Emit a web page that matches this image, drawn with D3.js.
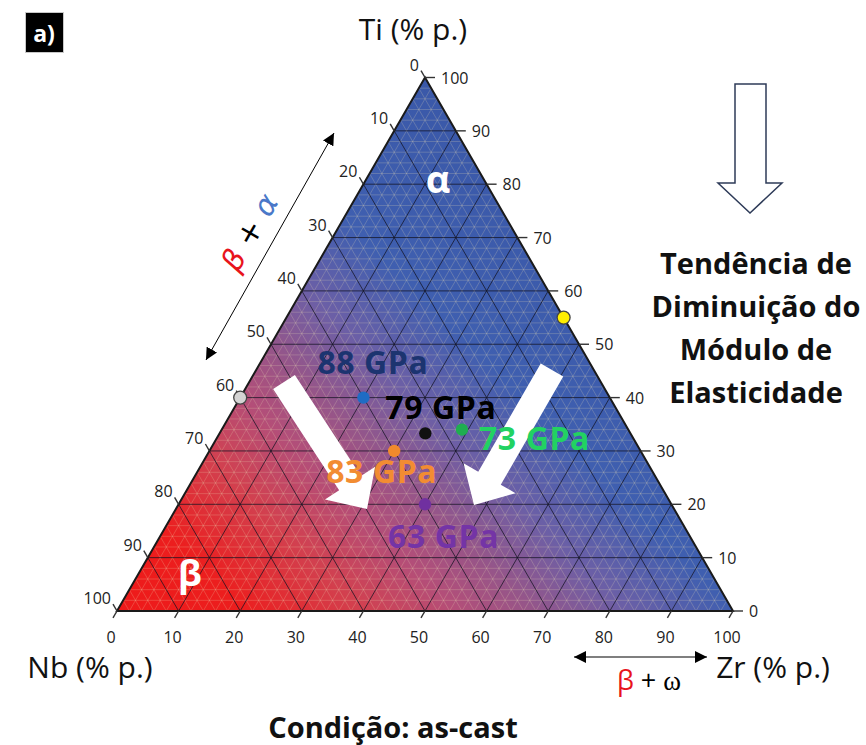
<!DOCTYPE html>
<html>
<head>
<meta charset="utf-8">
<script src="https://cdn.jsdelivr.net/npm/d3@7"></script>
<style>
  html, body { margin: 0; padding: 0; background: #fff; }
  svg { display: block; font-family: "Open Sans", "Noto Sans", sans-serif; }
</style>
</head>
<body>
<svg id="chart" width="866" height="745"></svg>
<script>
// ---- data -------------------------------------------------------------
const tickValues = [0, 10, 20, 30, 40, 50, 60, 70, 80, 90, 100];

// measured alloys (composition in wt.% and elastic modulus)
const moduli   = [88, 79, 73, 83, 63];
const alloyTi  = [40, 33.3, 34, 30, 20];
const alloyNb  = [40, 33.3, 27, 40, 40];
const alloyZr  = [20, 33.4, 39, 30, 40];
const alloyColors = ["#1f6cc4", "#111111", "#1fae50", "#f08a2c", "#7030a0"];
const labelColors = ["#1c3470", "#000000", "#22d262", "#f28c32", "#7434a6"];

// binary reference compositions lying on the edges
const edgeTi = [40, 55];
const edgeNb = [60, 0];
const edgeZr = [0, 45];
const edgeFill = ["#d4d4d4", "#ffee00"];

// background colour ramp (red = beta side, blue = alpha side)
const rampStops  = [0, 0.15, 0.29, 0.40, 0.49, 0.60, 0.73, 1];
const rampColors = ["#ee1a1a", "#ec1e1e", "#d2404f", "#b44e78", "#965589", "#6c5fa6", "#3f5fb0", "#3a58a8"];

// ---- ternary scales ----------------------------------------------------
const svg = d3.select("#chart");
const X = d3.scaleLinear().domain([0, 100]).range([117, 733]);
const Y = d3.scaleLinear().domain([0, 100]).range([611, 77.5]);
// (Nb, Ti, Zr) -> screen
const proj = (nb, ti, zr) => [X(zr + ti / 2), Y(ti)];

const cNb = proj(100, 0, 0), cZr = proj(0, 0, 100), cTi = proj(0, 100, 0);
const line = d3.line();

// diagonal fill: from the Nb corner towards the upper right
const defs = svg.append("defs");
const gLen = 600;
const grad = defs.append("linearGradient")
  .attr("id", "phaseGrad").attr("gradientUnits", "userSpaceOnUse")
  .attr("x1", cNb[0]).attr("y1", cNb[1])
  .attr("x2", cNb[0] + gLen / Math.SQRT2).attr("y2", cNb[1] - gLen / Math.SQRT2);
grad.selectAll("stop").data(rampStops).join("stop")
  .attr("offset", d => d).attr("stop-color", (d, i) => rampColors[i]);

svg.append("path")
  .attr("d", line([cNb, cZr, cTi]) + "Z")
  .attr("fill", "url(#phaseGrad)");

// ---- grid ---------------------------------------------------------------
const minor = d3.range(2, 100, 2).filter(v => v % 10 !== 0);
const major = d3.range(10, 100, 10);
function gridSegs(vals) {
  const segs = [];
  vals.forEach(v => {
    segs.push([proj(100 - v, v, 0), proj(0, v, 100 - v)]);   // Ti = v
    segs.push([proj(100 - v, 0, v), proj(0, 100 - v, v)]);   // Zr = v
    segs.push([proj(v, 0, 100 - v), proj(v, 100 - v, 0)]);   // Nb = v
  });
  return segs;
}
svg.append("g").selectAll("path").data(gridSegs(minor)).join("path")
  .attr("d", d => line(d))
  .attr("stroke", "rgba(235,225,185,0.32)").attr("stroke-width", 0.7).attr("fill", "none");
svg.append("g").selectAll("path").data(gridSegs(major)).join("path")
  .attr("d", d => line(d))
  .attr("stroke", "rgba(20,20,35,0.75)").attr("stroke-width", 1).attr("fill", "none");

// outline
svg.append("path")
  .attr("d", line([cNb, cZr, cTi]) + "Z")
  .attr("fill", "none").attr("stroke", "#1a1a1a").attr("stroke-width", 2)
  .attr("stroke-linejoin", "miter");

// ---- ticks & tick labels ------------------------------------------------
const tickCol = "#333";
const axes = [
  // bottom: Zr
  { pt: v => proj(100 - v, 0, v), dir: [-0.5, 0.866], len: 8,
    lab: p => [p[0] - 6, p[1] + 26], anchor: "middle" },
  // left: Nb
  { pt: v => proj(v, 100 - v, 0), dir: [-0.5, -0.866], len: 8,
    lab: p => [p[0] - 6, p[1] - 13], anchor: "end" },
  // right: Ti
  { pt: v => proj(0, v, 100 - v), dir: [1, 0], len: 10,
    lab: p => [p[0] + 16, p[1]], anchor: "start" }
];
axes.forEach(ax => {
  const g = svg.append("g");
  g.selectAll("line").data(tickValues).join("line")
    .attr("x1", v => ax.pt(v)[0]).attr("y1", v => ax.pt(v)[1])
    .attr("x2", v => ax.pt(v)[0] + ax.dir[0] * ax.len)
    .attr("y2", v => ax.pt(v)[1] + ax.dir[1] * ax.len)
    .attr("stroke", tickCol).attr("stroke-width", 1.4);
  g.selectAll("text").data(tickValues).join("text")
    .attr("x", v => ax.lab(ax.pt(v))[0]).attr("y", v => ax.lab(ax.pt(v))[1])
    .attr("text-anchor", ax.anchor).attr("dominant-baseline", "central")
    .attr("font-size", 16).attr("fill", "#222")
    .text(v => v);
});

// ---- phase field labels --------------------------------------------------
svg.append("text").attr("x", proj(7.3, 81.2, 11.5)[0]).attr("y", proj(7.3, 81.2, 11.5)[1])
  .attr("text-anchor", "middle").attr("dominant-baseline", "central")
  .attr("font-size", 38).attr("font-weight", 700).attr("fill", "#fff").text("α");
svg.append("text").attr("x", proj(84.5, 7.3, 8.2)[0]).attr("y", proj(84.5, 7.3, 8.2)[1])
  .attr("text-anchor", "middle").attr("dominant-baseline", "central")
  .attr("font-size", 36).attr("font-weight", 700).attr("fill", "#fff").text("β");

// ---- trend arrows (white block arrows) -----------------------------------
function blockArrow(from, to, shaftW, headW, headL) {
  const dx = to[0] - from[0], dy = to[1] - from[1];
  const L = Math.hypot(dx, dy), ux = dx / L, uy = dy / L, nx = -uy, ny = ux;
  const bx = to[0] - ux * headL, by = to[1] - uy * headL;
  return line([
    [from[0] + nx * shaftW / 2, from[1] + ny * shaftW / 2],
    [bx + nx * shaftW / 2, by + ny * shaftW / 2],
    [bx + nx * headW / 2, by + ny * headW / 2],
    to,
    [bx - nx * headW / 2, by - ny * headW / 2],
    [bx - nx * shaftW / 2, by - ny * shaftW / 2],
    [from[0] - nx * shaftW / 2, from[1] - ny * shaftW / 2]
  ]) + "Z";
}
svg.append("path").attr("d", blockArrow([284, 382], [367, 509], 26, 60, 31)).attr("fill", "#fff");
svg.append("path").attr("d", blockArrow([552, 370], [474, 505], 26, 60, 31)).attr("fill", "#fff");

// ---- edge points -----------------------------------------------------------
svg.append("g").selectAll("circle").data(edgeTi).join("circle")
  .attr("cx", (d, i) => proj(edgeNb[i], edgeTi[i], edgeZr[i])[0])
  .attr("cy", (d, i) => proj(edgeNb[i], edgeTi[i], edgeZr[i])[1])
  .attr("r", 6.5).attr("fill", (d, i) => edgeFill[i])
  .attr("stroke", "#444").attr("stroke-width", 1.3);

// ---- alloys ---------------------------------------------------------------
const alloyPos = moduli.map((m, i) => proj(alloyNb[i], alloyTi[i], alloyZr[i]));
svg.append("g").selectAll("circle").data(moduli).join("circle")
  .attr("cx", (d, i) => alloyPos[i][0]).attr("cy", (d, i) => alloyPos[i][1])
  .attr("r", 6.2).attr("fill", (d, i) => alloyColors[i]);

// label placement relative to each point (start x, baseline y)
const labelDx = [-46, -40, 17, -68, -37];
const labelDy = [-24, -14, 20, 32, 44];
svg.append("g").selectAll("text").data(moduli).join("text")
  .attr("x", (d, i) => alloyPos[i][0] + labelDx[i])
  .attr("y", (d, i) => alloyPos[i][1] + labelDy[i])
  .attr("font-size", 32).attr("font-weight", 700).attr("letter-spacing", 0.6)
  .attr("fill", (d, i) => labelColors[i])
  .text(d => d + " GPa");

// ---- axis titles ------------------------------------------------------------
svg.append("text").attr("x", 413).attr("y", 40).attr("text-anchor", "middle")
  .attr("font-size", 30).attr("fill", "#111").text("Ti (% p.)");
svg.append("text").attr("x", 90).attr("y", 678).attr("text-anchor", "middle")
  .attr("font-size", 30).attr("fill", "#111").text("Nb (% p.)");
svg.append("text").attr("x", 773).attr("y", 678).attr("text-anchor", "middle")
  .attr("font-size", 30).attr("fill", "#111").text("Zr (% p.)");
svg.append("text").attr("x", 393).attr("y", 738).attr("text-anchor", "middle")
  .attr("font-size", 29).attr("font-weight", 700).attr("fill", "#111").text("Condição: as-cast");

// ---- panel tag ----------------------------------------------------------------
svg.append("rect").attr("x", 25.5).attr("y", 12.5).attr("width", 38).attr("height", 40)
  .attr("fill", "#000").attr("stroke", "#c8c8c8").attr("stroke-width", 1);
svg.append("text").attr("x", 44).attr("y", 33).attr("text-anchor", "middle")
  .attr("dominant-baseline", "central").attr("font-size", 23).attr("font-weight", 700)
  .attr("fill", "#fff").text("a)");

// ---- double arrows for two-phase regions --------------------------------------
defs.append("marker").attr("id", "head").attr("viewBox", "0 0 10 10")
  .attr("refX", 10).attr("refY", 5).attr("markerWidth", 12).attr("markerHeight", 12)
  .attr("markerUnits", "userSpaceOnUse").attr("orient", "auto-start-reverse")
  .append("path").attr("d", "M0,0 L10,5 L0,10 Z").attr("fill", "#000");

svg.append("line").attr("x1", 206).attr("y1", 360).attr("x2", 334).attr("y2", 133)
  .attr("stroke", "#000").attr("stroke-width", 1)
  .attr("marker-start", "url(#head)").attr("marker-end", "url(#head)");
const ba = svg.append("text").attr("transform", "translate(249,232) rotate(-60)")
  .attr("text-anchor", "middle").attr("dominant-baseline", "central")
  .attr("font-size", 30).attr("font-family", "DejaVu Sans, sans-serif");
ba.append("tspan").attr("fill", "#e8141c").attr("font-style", "italic").text("β");
ba.append("tspan").attr("fill", "#000").text(" + ");
ba.append("tspan").attr("fill", "#4a78c8").attr("font-style", "italic").text("α");

svg.append("line").attr("x1", 574).attr("y1", 657).attr("x2", 707).attr("y2", 657)
  .attr("stroke", "#000").attr("stroke-width", 1.2)
  .attr("marker-start", "url(#head)").attr("marker-end", "url(#head)");
const bw = svg.append("text").attr("x", 649).attr("y", 690).attr("text-anchor", "middle")
  .attr("font-size", 27);
bw.append("tspan").attr("fill", "#e8141c").text("β");
bw.append("tspan").attr("fill", "#000").text(" + ");
bw.append("tspan").attr("fill", "#000").attr("font-family", "Liberation Serif, serif").text("ω");

// ---- trend note ------------------------------------------------------------------
svg.append("path")
  .attr("d", line([[735, 84], [766, 84], [766, 183], [782, 183], [750, 213], [718, 183], [735, 183]]) + "Z")
  .attr("fill", "#fff").attr("stroke", "#2e3b58").attr("stroke-width", 1.5);
const note = ["Tendência de", "Diminuição do", "Módulo de", "Elasticidade"];
svg.append("g").selectAll("text").data(note).join("text")
  .attr("x", 756).attr("y", (d, i) => 274 + i * 43)
  .attr("text-anchor", "middle").attr("font-size", 29).attr("font-weight", 700)
  .attr("fill", "#111").text(d => d);
</script>
</body>
</html>
